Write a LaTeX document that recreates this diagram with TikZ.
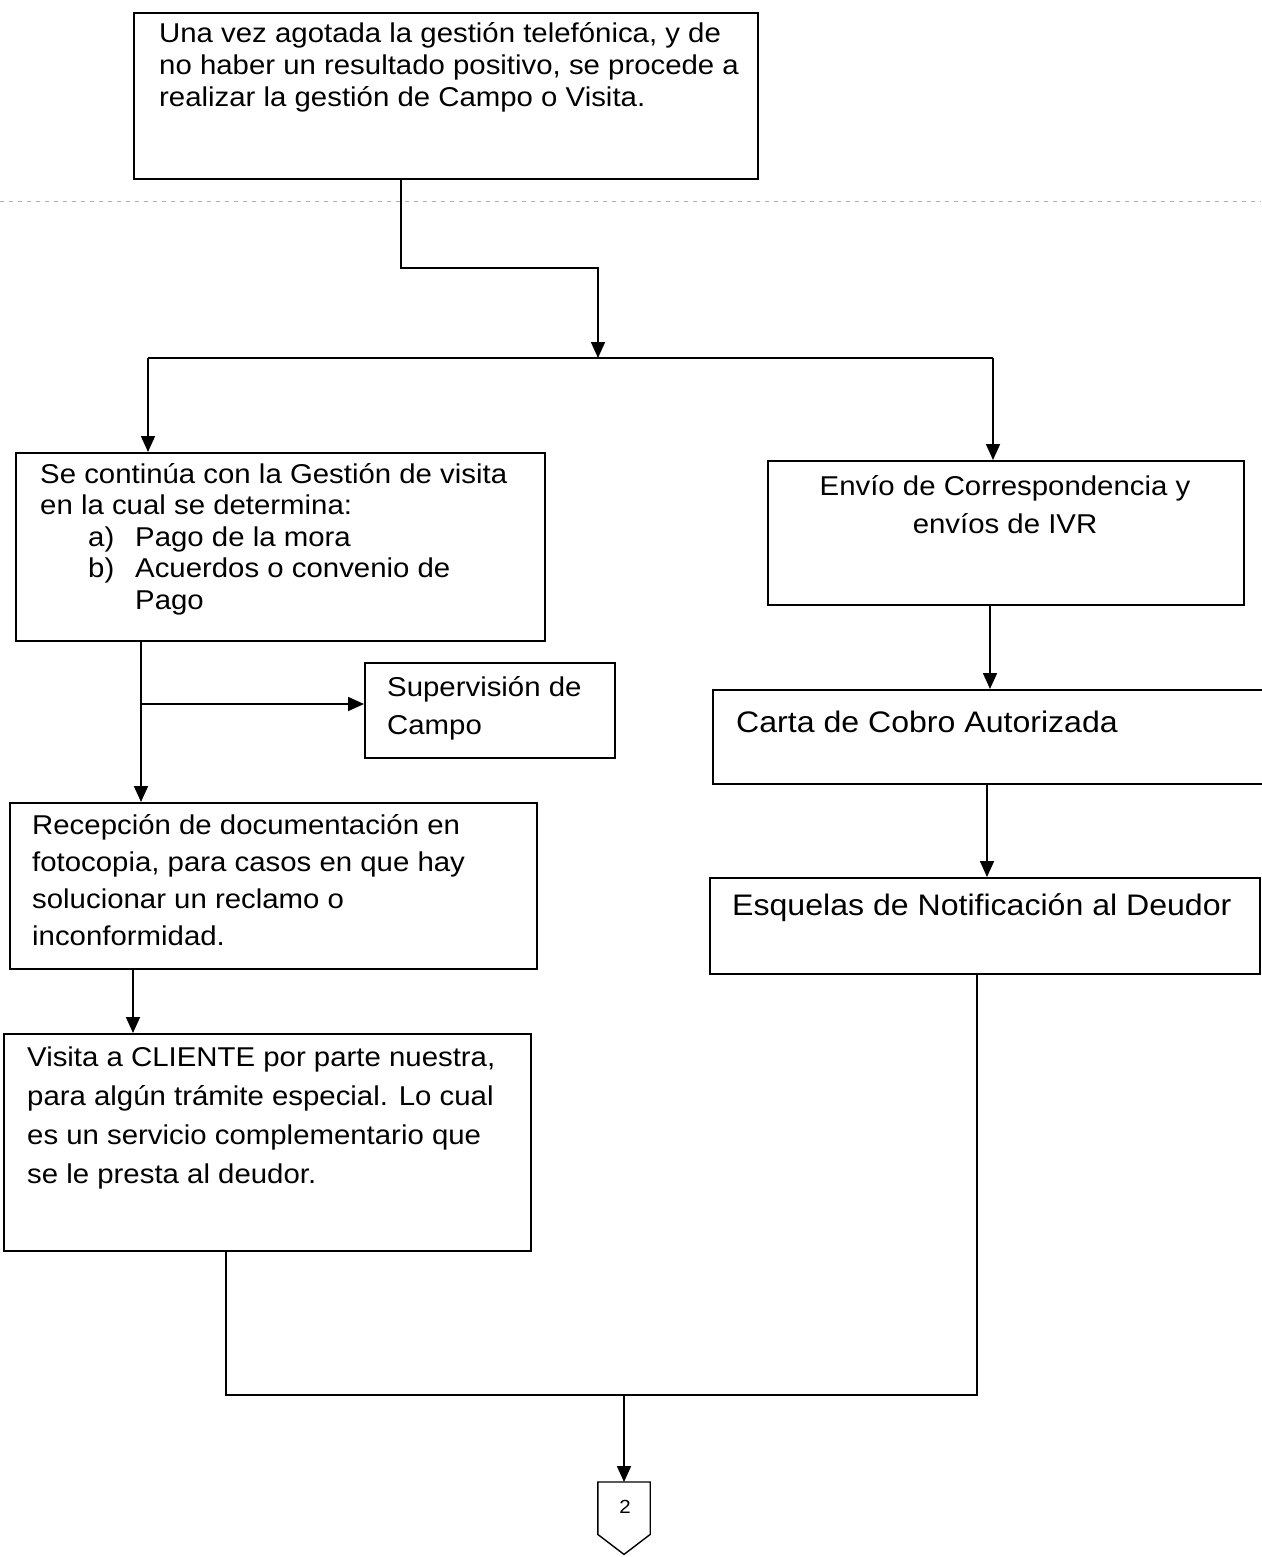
\documentclass[tikz,border=0pt]{standalone}
\usepackage{fontspec}
\setmainfont{Liberation Sans}[FakeStretch=1.08]
\usetikzlibrary{arrows.meta}
\newcommand\leftlines[1]{\begin{tabular}[t]{@{}l@{}}#1\end{tabular}}
\newcommand\centerlines[1]{\begin{tabular}[t]{@{}c@{}}#1\end{tabular}}
\begin{document}
\begin{tikzpicture}[x=1pt,y=-1pt,
  box/.style={draw, line width=1.6pt, rectangle, inner sep=0pt, anchor=north west},
  txt/.style={inner sep=0pt, anchor=base west},
  line/.style={draw, line width=1.7pt},
  arr/.style={draw, line width=1.7pt, -{Triangle[length=16pt,width=14pt]}},
  sm/.style={font=\fontsize{27.2}{32}\selectfont},
  big/.style={font=\fontsize{29.7}{36}\selectfont}]
\useasboundingbox (0,0) rectangle (1261,1557);
\fill[white] (0,0) rectangle (1261,1557);
% faint scan line
\draw[gray!60, line width=0.8pt, dash pattern=on 4pt off 5pt] (0,201) -- (1261,201);
% boxes
\node[box, minimum width=624pt, minimum height=166pt] (b1) at (133,12) {};
\node[box, minimum width=529pt, minimum height=188pt] (b2) at (15,452) {};
\node[box, minimum width=476pt, minimum height=144pt] (b3) at (767,460) {};
\node[box, minimum width=560pt, minimum height=94pt] (b4) at (712,689) {};
\node[box, minimum width=550pt, minimum height=96pt] (b5) at (709,877) {};
\node[box, minimum width=250pt, minimum height=95pt] (sup) at (364,662) {};
\node[box, minimum width=527pt, minimum height=166pt] (b6) at (9,802) {};
\node[box, minimum width=527pt, minimum height=217pt] (b7) at (3,1033) {};
\node[inner sep=0pt, minimum width=52pt, minimum height=72pt, anchor=north] (c2) at (624,1482) {};
\draw[line width=1.4pt, line join=miter] (c2.north west) -- (c2.north east) -- ([yshift=20pt]c2.south east) -- (c2.south) -- ([yshift=20pt]c2.south west) -- cycle;
\node[font=\fontsize{19}{22}\selectfont, inner sep=0pt] (c2t) at (625,1507) {2};
% texts
\node[txt, sm] (t1) at (159,43) {\leftlines{Una vez agotada la gestión telefónica, y de\\no haber un resultado positivo, se procede a\\realizar la gestión de Campo o Visita.}};
\node[txt, font=\fontsize{27.2}{31.5}\selectfont] (t2) at (40,483) {\leftlines{Se continúa con la Gestión de visita\\en la cual se determina:\\\hspace*{48pt}\makebox[47pt][l]{a)}Pago de la mora\\\hspace*{48pt}\makebox[47pt][l]{b)}Acuerdos o convenio de\\\hspace*{95pt}Pago}};
\node[inner sep=0pt, anchor=base, font=\fontsize{27.2}{38}\selectfont] (t3) at (1005,495) {\centerlines{Envío de Correspondencia y\\envíos de IVR}};
\node[txt, big] (t4) at (736,732) {Carta de Cobro Autorizada};
\node[txt, big] (t5) at (732,915) {Esquelas de Notificación al Deudor};
\node[txt, font=\fontsize{27.2}{38}\selectfont] (tsup) at (387,696) {\leftlines{Supervisión de\\Campo}};
\node[txt, font=\fontsize{27.2}{37}\selectfont] (t6) at (32,834) {\leftlines{Recepción de documentación en\\fotocopia, para casos en que hay\\solucionar un reclamo o\\inconformidad.}};
\node[txt, font=\fontsize{27.2}{39}\selectfont] (t7) at (27,1066) {\leftlines{Visita a CLIENTE por parte nuestra,\\para algún trámite especial. Lo cual\\es un servicio complementario que\\se le presta al deudor.}};
% connectors
\coordinate (j1) at (401,268);
\coordinate (j2) at (598,268);
\coordinate (sp) at (598,358);
\coordinate (hl) at (148,358);
\coordinate (hr) at (993,358);
\draw[arr] (b1.south -| j1) -- (j1) -- (j2) -- (sp);
\draw[line] (hl) -- (hr);
\draw[arr] (hl) -- (b2.north -| hl);
\draw[arr] (hr) -- (b3.north -| hr);
\coordinate (v1) at (141,704);
\draw[arr] (b2.south -| v1) -- (b6.north -| v1);
\draw[arr] (v1) -- (sup.west |- v1);
\coordinate (v2) at (990,650);
\draw[arr] (b3.south -| v2) -- (b4.north -| v2);
\coordinate (v3) at (987,830);
\draw[arr] (b4.south -| v3) -- (b5.north -| v3);
\coordinate (v4) at (133,1000);
\draw[arr] (b6.south -| v4) -- (b7.north -| v4);
\coordinate (m1) at (226,1395);
\coordinate (m2) at (977,1395);
\coordinate (m3) at (624,1395);
\draw[line] (b7.south -| m1) -- (m1) -- (m2) -- (b5.south -| m2);
\draw[arr] (m3) -- (c2.north);
\end{tikzpicture}
\end{document}
